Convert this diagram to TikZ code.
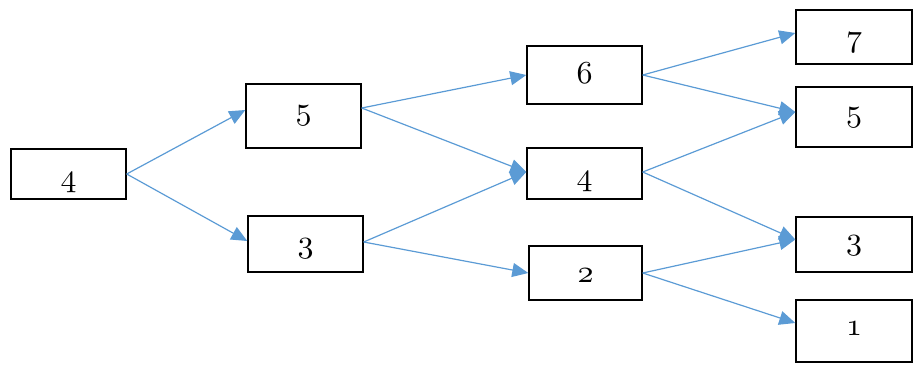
\documentclass[tikz,border=0pt]{standalone}
\usetikzlibrary{arrows.meta}
\definecolor{arrblue}{HTML}{5B9BD5}
\DeclareFontFamily{OML}{digcmm}{\skewchar\font=127}
\DeclareFontShape{OML}{digcmm}{m}{it}{<->cmmi10}{}
\newcommand\dignum[1]{{\fontsize{32}{38}\usefont{OML}{digcmm}{m}{it}#1}}
\begin{document}
\begin{tikzpicture}[x=1pt,y=-1pt,
  bx/.style={draw=black, line width=1.4pt, inner sep=0pt, text depth=0pt},
  conn/.style={draw=arrblue, line width=1.2pt, -{Triangle[length=16pt,width=14pt]}}]
\useasboundingbox (0,0) rectangle (914,365);
% boxes
\node[bx, minimum width=115pt, minimum height=50pt, text height=24pt] (A) at (68.5,174) {\dignum{4}};
\node[bx, minimum width=115pt, minimum height=64pt, text height=6pt]  (B) at (303.5,116) {\dignum{5}};
\node[bx, minimum width=115pt, minimum height=56pt, text height=16pt] (C) at (305.5,244) {\dignum{3}};
\node[bx, minimum width=115pt, minimum height=58pt, text height=16pt] (D) at (584.5,75) {\dignum{6}};
\node[bx, minimum width=115pt, minimum height=51pt, text height=23pt] (E) at (584.5,173.5) {\dignum{4}};
\node[bx, minimum width=113pt, minimum height=54pt, text height=18pt] (F) at (585.5,273) {\dignum{2}};
\node[bx, minimum width=116pt, minimum height=54pt, text height=18pt] (G) at (854,37) {\dignum{7}};
\node[bx, minimum width=116pt, minimum height=60pt, text height=8pt]  (H) at (854,117) {\dignum{5}};
\node[bx, minimum width=116pt, minimum height=55pt, text height=10pt] (I) at (854,244.5) {\dignum{3}};
\node[bx, minimum width=116pt, minimum height=62pt, text height=8pt]  (J) at (854,331) {\dignum{1}};
% connectors
\draw[conn] (A.east) -- ([yshift=6pt]B.west);
\draw[conn] (A.east) -- ([yshift=3pt]C.west);
\draw[conn] ([yshift=8pt]B.east) -- (D.west);
\draw[conn] ([yshift=8pt]B.east) -- ([yshift=1.5pt]E.west);
\draw[conn] ([yshift=2pt]C.east) -- ([yshift=1.5pt]E.west);
\draw[conn] ([yshift=2pt]C.east) -- (F.west);
\draw[conn] (D.east) -- ([yshift=4pt]G.west);
\draw[conn] (D.east) -- ([yshift=5pt]H.west);
\draw[conn] ([yshift=1.5pt]E.east) -- ([yshift=5pt]H.west);
\draw[conn] ([yshift=1.5pt]E.east) -- ([yshift=5pt]I.west);
\draw[conn] (F.east) -- ([yshift=5pt]I.west);
\draw[conn] (F.east) -- ([yshift=8pt]J.west);
\end{tikzpicture}
\end{document}
